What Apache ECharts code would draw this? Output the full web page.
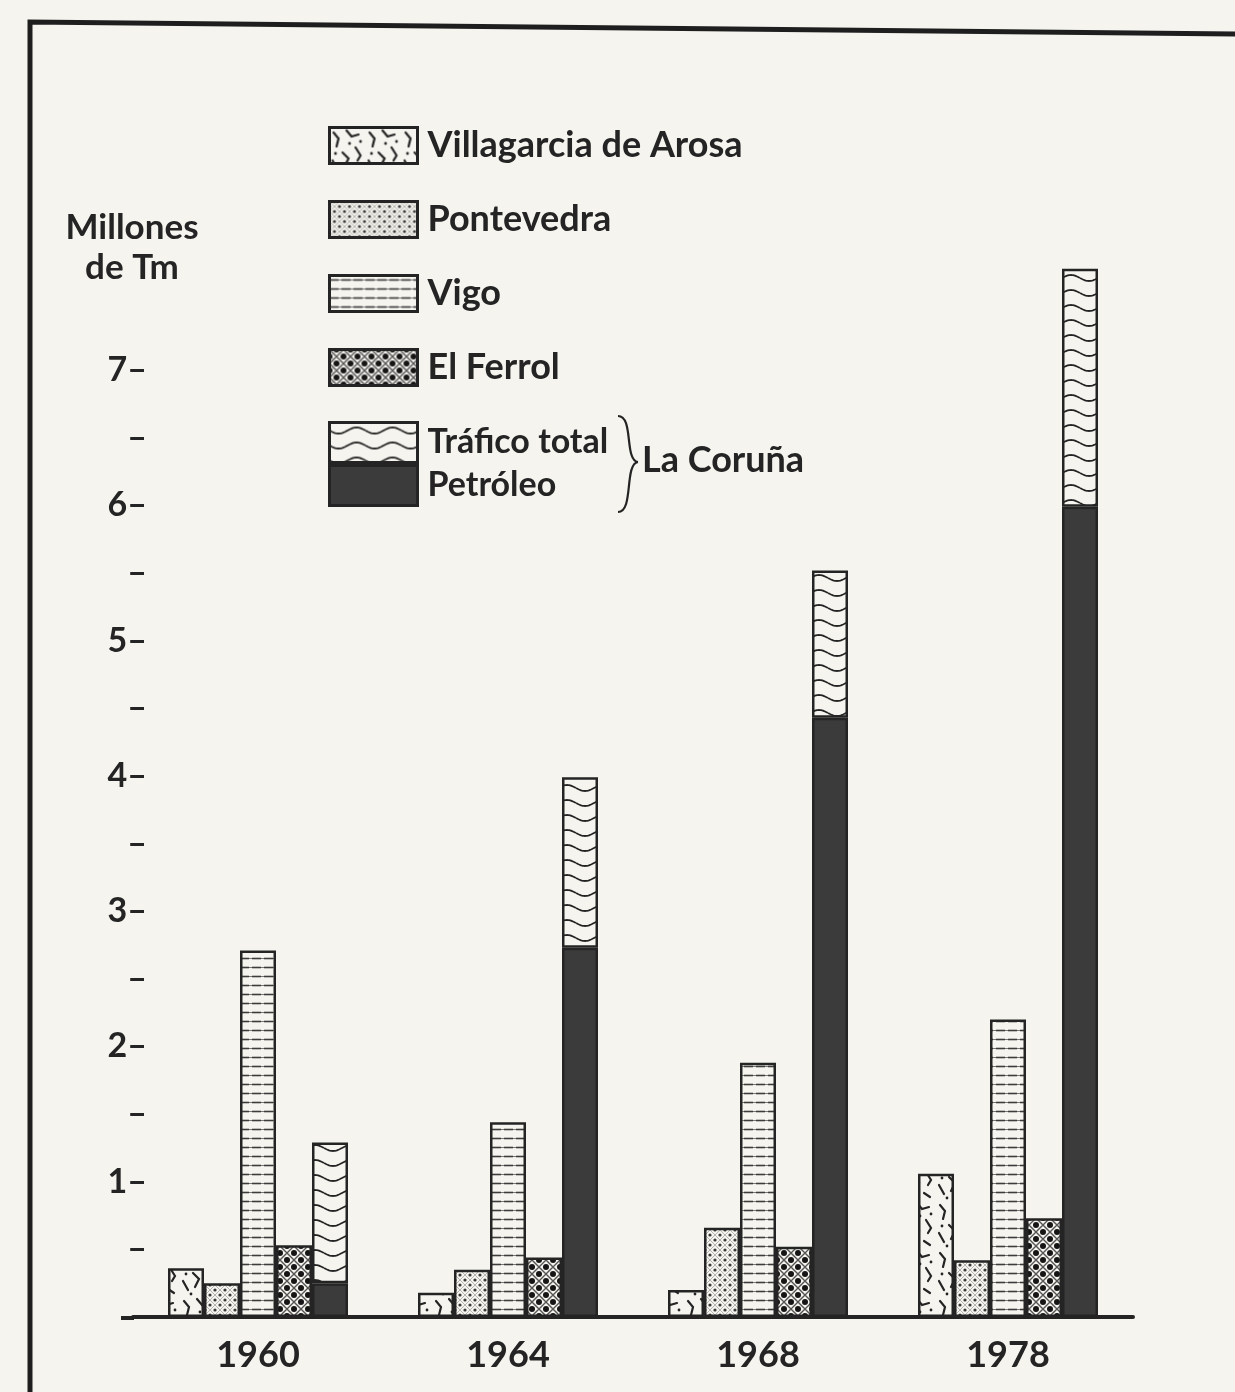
<!DOCTYPE html>
<html>
<head>
<meta charset="utf-8">
<script src="https://cdn.jsdelivr.net/npm/echarts@6/dist/echarts.min.js"></script>
<style>
  html, body { margin: 0; padding: 0; background: #f5f4ef; }
  #chart { width: 1235px; height: 1392px; }
</style>
</head>
<body>
<div id="chart"></div>
<script>
// data (millones de Tm)
const years = ['1960', '1964', '1968', '1978']
const villagarcia = [0.36, 0.18, 0.20, 1.06]
const pontevedra = [0.25, 0.35, 0.66, 0.42]
const vigo = [2.71, 1.44, 1.88, 2.20]
const ferrol = [0.53, 0.44, 0.52, 0.73]
const corunaTotal = [1.29, 3.99, 5.52, 7.75]
const corunaPetroleo = [0.25, 2.73, 4.43, 5.99]
const yLabelMax = 7

const INK = '#242424'
const PAPER = '#f5f4ef'
const FONT = 'Lato'

// --- hatch patterns, like the old print ---
function makeCanvas(w, h) {
  const c = document.createElement('canvas')
  c.width = w
  c.height = h
  const ctx = c.getContext('2d')
  ctx.fillStyle = PAPER
  ctx.fillRect(0, 0, w, h)
  return [c, ctx]
}

function crackle() {
  const [c, ctx] = makeCanvas(36, 48)
  ctx.strokeStyle = INK
  ctx.lineWidth = 2.2
  ctx.lineCap = 'round'
  const strokes = [
    [[4, 5], [9, 11], [7, 19]],
    [[17, 3], [22, 9], [29, 7]],
    [[13, 25], [19, 31], [15, 39]],
    [[26, 20], [31, 28], [28, 33]],
    [[3, 33], [8, 42]],
    [[24, 41], [30, 45]]
  ]
  strokes.forEach(s => {
    ctx.beginPath()
    s.forEach((p, i) => i ? ctx.lineTo(p[0], p[1]) : ctx.moveTo(p[0], p[1]))
    ctx.stroke()
  })
  ctx.fillStyle = INK
  ;[[20, 16], [6, 26], [31, 14], [11, 46]].forEach(p => {
    ctx.beginPath(); ctx.arc(p[0], p[1], 1.4, 0, Math.PI * 2); ctx.fill()
  })
  return c
}

function fineDots() {
  const [c, ctx] = makeCanvas(10, 10)
  ctx.strokeStyle = '#a3a39f'
  ctx.lineWidth = 0.8
  ctx.beginPath()
  ctx.moveTo(0, 0); ctx.lineTo(10, 10)
  ctx.moveTo(10, 0); ctx.lineTo(0, 10)
  ctx.stroke()
  ctx.fillStyle = '#3a3a3a'
  ;[[5, 0], [0, 5], [10, 5], [5, 10]].forEach(p => {
    ctx.beginPath(); ctx.arc(p[0], p[1], 1.6, 0, Math.PI * 2); ctx.fill()
  })
  return c
}

function hLines() {
  const [c, ctx] = makeCanvas(12, 9)
  ctx.strokeStyle = '#3c3c3c'
  ctx.lineWidth = 1.6
  ctx.beginPath()
  ctx.moveTo(0, 4.5); ctx.lineTo(9, 4.5)
  ctx.stroke()
  ctx.strokeStyle = '#777'
  ctx.lineWidth = 1
  ctx.beginPath()
  ctx.moveTo(9, 4.5); ctx.lineTo(12, 4.5)
  ctx.stroke()
  return c
}

function bigDots() {
  const [c, ctx] = makeCanvas(14, 14)
  ctx.strokeStyle = '#555'
  ctx.lineWidth = 1.4
  ctx.beginPath()
  ctx.moveTo(0, 0); ctx.lineTo(14, 14)
  ctx.moveTo(14, 0); ctx.lineTo(0, 14)
  ctx.stroke()
  ctx.fillStyle = '#151515'
  ;[[7, 0], [0, 7], [14, 7], [7, 14]].forEach(p => {
    ctx.beginPath(); ctx.arc(p[0], p[1], 3, 0, Math.PI * 2); ctx.fill()
  })
  return c
}

function waves() {
  const [c, ctx] = makeCanvas(36, 15)
  ctx.strokeStyle = INK
  ctx.lineWidth = 1.8
  ctx.beginPath()
  for (let x = 0; x <= 36; x++) {
    const y = 8 + 3 * Math.sin(x / 36 * Math.PI * 2)
    x ? ctx.lineTo(x, y) : ctx.moveTo(x, y)
  }
  ctx.stroke()
  return c
}

function pat(canvas) {
  return { image: canvas, repeat: 'repeat' }
}

const barStyle = fill => ({
  color: fill,
  borderColor: INK,
  borderWidth: 2.5
})

const chart = echarts.init(document.getElementById('chart'))

const legendBase = {
  orient: 'vertical',
  left: 328,
  padding: 0,
  icon: 'rect',
  itemWidth: 88,
  selectedMode: false,
  itemStyle: { borderColor: INK, borderWidth: 3 }
}

const option = {
  backgroundColor: PAPER,
  animation: false,
  textStyle: { fontFamily: FONT, color: INK },
  grid: { left: 133, right: 102, top: 235, bottom: 75 },
  legend: [
    Object.assign({}, legendBase, {
      data: ['Villagarcia de Arosa', 'Pontevedra', 'Vigo', 'El Ferrol'],
      top: 126,
      itemHeight: 36,
      itemGap: 35,
      textStyle: { fontSize: 36, fontWeight: 'bold', color: INK, fontFamily: FONT, padding: [2, 0, 0, 5] }
    }),
    Object.assign({}, legendBase, {
      data: ['Tráfico total', 'Petróleo'],
      top: 421,
      itemHeight: 40,
      itemGap: 0,
      textStyle: { fontSize: 34, fontWeight: 'bold', color: INK, fontFamily: FONT, padding: [6, 0, 0, 5] }
    })
  ],
  xAxis: {
    type: 'category',
    data: years,
    axisLine: { lineStyle: { color: INK, width: 4 } },
    axisTick: { show: false },
    axisLabel: { fontSize: 36, fontWeight: 'bold', color: INK, margin: 20, fontFamily: FONT }
  },
  yAxis: {
    type: 'value',
    min: 0,
    max: 8,
    interval: 0.5,
    offset: -14,
    axisLine: { show: false },
    axisTick: { show: false },
    splitLine: { show: false },
    axisLabel: {
      fontSize: 34,
      fontWeight: 'bold',
      color: INK,
      fontFamily: FONT,
      margin: 0,
      formatter: v => {
        if (v === 0 || v > yLabelMax) return ''
        return Number.isInteger(v) ? v + '–' : '–'
      }
    }
  },
  graphic: [
    {
      type: 'polyline',
      shape: { points: [[30, 1392], [30, 22], [1235, 34]] },
      style: { stroke: '#1e1e1e', lineWidth: 5, fill: null }
    },
    {
      type: 'line',
      shape: { x1: 121, y1: 1318, x2: 134, y2: 1318 },
      style: { stroke: INK, lineWidth: 4 }
    },
    {
      type: 'text',
      x: 132,
      y: 208,
      style: {
        text: 'Millones\nde Tm',
        fontSize: 35,
        fontWeight: 'bold',
        fontFamily: FONT,
        fill: INK,
        align: 'center',
        lineHeight: 40
      }
    },
    {
      type: 'bezierCurve',
      shape: { x1: 618, y1: 416, cpx1: 634, cpy1: 416, cpx2: 624, cpy2: 460, x2: 638, y2: 462 },
      style: { stroke: INK, lineWidth: 2.2, fill: null }
    },
    {
      type: 'bezierCurve',
      shape: { x1: 638, y1: 462, cpx1: 624, cpy1: 464, cpx2: 634, cpy2: 512, x2: 618, y2: 512 },
      style: { stroke: INK, lineWidth: 2.2, fill: null }
    },
    {
      type: 'text',
      x: 642,
      y: 442,
      style: { text: 'La Coruña', fontSize: 36, fontWeight: 'bold', fontFamily: FONT, fill: INK }
    }
  ],
  series: [
    {
      name: 'Villagarcia de Arosa',
      type: 'bar',
      barWidth: 36,
      barGap: '0%',
      data: villagarcia,
      itemStyle: barStyle(pat(crackle()))
    },
    {
      name: 'Pontevedra',
      type: 'bar',
      barWidth: 36,
      data: pontevedra,
      itemStyle: barStyle(pat(fineDots()))
    },
    {
      name: 'Vigo',
      type: 'bar',
      barWidth: 36,
      data: vigo,
      itemStyle: barStyle(pat(hLines()))
    },
    {
      name: 'El Ferrol',
      type: 'bar',
      barWidth: 36,
      data: ferrol,
      itemStyle: barStyle(pat(bigDots()))
    },
    {
      name: 'Petróleo',
      type: 'bar',
      stack: 'coruna',
      barWidth: 36,
      data: corunaPetroleo,
      itemStyle: barStyle('#3b3b3b')
    },
    {
      name: 'Tráfico total',
      type: 'bar',
      stack: 'coruna',
      barWidth: 36,
      // the rest of the total traffic above the oil part
      data: corunaTotal.map((t, i) => +(t - corunaPetroleo[i]).toFixed(2)),
      itemStyle: barStyle(pat(waves()))
    }
  ]
}

chart.setOption(option)
</script>
</body>
</html>
